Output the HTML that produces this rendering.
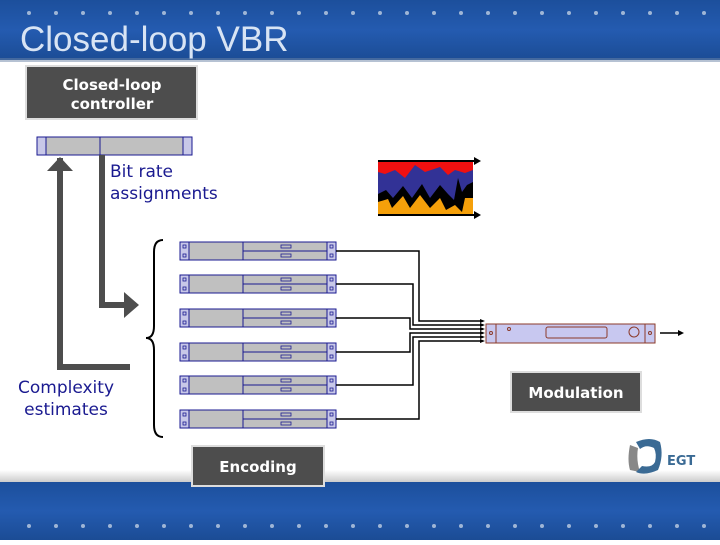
<!DOCTYPE html>
<html><head><style>
body{margin:0;width:720px;height:540px;overflow:hidden;background:#fff;font-family:"Liberation Sans","DejaVu Sans",sans-serif}
</style></head><body>
<svg width="720" height="540" xmlns="http://www.w3.org/2000/svg">
<defs>
<linearGradient id="bl" x1="0" y1="0" x2="0" y2="1"><stop offset="0" stop-color="#1c4f9c"/><stop offset="0.5" stop-color="#245bb0"/><stop offset="1" stop-color="#1b4c95"/></linearGradient>
<linearGradient id="sh" x1="0" y1="0" x2="0" y2="1"><stop offset="0" stop-color="#fff"/><stop offset="1" stop-color="#ccc"/></linearGradient>
<g id="enc">
<rect x="0" y="0" width="156" height="18" fill="#c0c0c0" stroke="#1a1a90" stroke-width="1"/>
<rect x="0" y="0" width="9" height="18" fill="#c8c8e8" stroke="#1a1a90"/>
<rect x="147" y="0" width="9" height="18" fill="#c8c8e8" stroke="#1a1a90"/>
<line x1="63" y1="0" x2="63" y2="18" stroke="#1a1a90"/>
<line x1="63" y1="9" x2="147" y2="9" stroke="#1a1a90"/>
<rect x="101" y="3" width="10" height="3" fill="none" stroke="#1a1a90" stroke-width="0.8"/>
<rect x="101" y="12" width="10" height="3" fill="none" stroke="#1a1a90" stroke-width="0.8"/>
<rect x="3" y="3" width="3" height="3" fill="none" stroke="#1a1a90" stroke-width="0.8"/>
<rect x="3" y="12" width="3" height="3" fill="none" stroke="#1a1a90" stroke-width="0.8"/>
<rect x="150" y="3" width="3" height="3" fill="none" stroke="#1a1a90" stroke-width="0.8"/>
<rect x="150" y="12" width="3" height="3" fill="none" stroke="#1a1a90" stroke-width="0.8"/>
</g>
</defs>
<rect x="0" y="0" width="720" height="60" fill="url(#bl)"/>
<rect x="0" y="58" width="720" height="4" fill="#6d86a8" opacity="0.5"/>
<g fill="#9fb6d6">
<circle cx="29" cy="13" r="2"/><circle cx="56" cy="13" r="2"/><circle cx="83" cy="13" r="2"/><circle cx="110" cy="13" r="2"/><circle cx="137" cy="13" r="2"/><circle cx="164" cy="13" r="2"/><circle cx="191" cy="13" r="2"/><circle cx="218" cy="13" r="2"/><circle cx="245" cy="13" r="2"/><circle cx="272" cy="13" r="2"/><circle cx="299" cy="13" r="2"/><circle cx="326" cy="13" r="2"/><circle cx="353" cy="13" r="2"/><circle cx="380" cy="13" r="2"/><circle cx="407" cy="13" r="2"/><circle cx="434" cy="13" r="2"/><circle cx="461" cy="13" r="2"/><circle cx="488" cy="13" r="2"/><circle cx="515" cy="13" r="2"/><circle cx="542" cy="13" r="2"/><circle cx="569" cy="13" r="2"/><circle cx="596" cy="13" r="2"/><circle cx="623" cy="13" r="2"/><circle cx="650" cy="13" r="2"/><circle cx="677" cy="13" r="2"/><circle cx="704" cy="13" r="2"/>
</g>
<text x="20" y="51" font-size="35" fill="#d8e4f4">Closed-loop VBR</text>
<rect x="0" y="470" width="720" height="12" fill="url(#sh)"/>
<rect x="0" y="482" width="720" height="58" fill="url(#bl)"/>
<g fill="#9fb6d6">
<circle cx="29" cy="526" r="2"/><circle cx="56" cy="526" r="2"/><circle cx="83" cy="526" r="2"/><circle cx="110" cy="526" r="2"/><circle cx="137" cy="526" r="2"/><circle cx="164" cy="526" r="2"/><circle cx="191" cy="526" r="2"/><circle cx="218" cy="526" r="2"/><circle cx="245" cy="526" r="2"/><circle cx="272" cy="526" r="2"/><circle cx="299" cy="526" r="2"/><circle cx="326" cy="526" r="2"/><circle cx="353" cy="526" r="2"/><circle cx="380" cy="526" r="2"/><circle cx="407" cy="526" r="2"/><circle cx="434" cy="526" r="2"/><circle cx="461" cy="526" r="2"/><circle cx="488" cy="526" r="2"/><circle cx="515" cy="526" r="2"/><circle cx="542" cy="526" r="2"/><circle cx="569" cy="526" r="2"/><circle cx="596" cy="526" r="2"/><circle cx="623" cy="526" r="2"/><circle cx="650" cy="526" r="2"/><circle cx="677" cy="526" r="2"/><circle cx="704" cy="526" r="2"/>
</g>
<!-- controller -->
<rect x="26" y="66" width="171" height="53" fill="#4d4d4d" stroke="#ddd" stroke-width="2"/>
<text x="112" y="90" font-size="15" font-weight="bold" fill="#fff" text-anchor="middle" font-family="DejaVu Sans">Closed-loop</text>
<text x="112" y="109" font-size="15" font-weight="bold" fill="#fff" text-anchor="middle" font-family="DejaVu Sans">controller</text>
<rect x="37" y="137" width="155" height="18" fill="#c0c0c0" stroke="#1a1a90"/>
<rect x="37" y="137" width="9" height="18" fill="#c8c8e8" stroke="#1a1a90"/>
<rect x="183" y="137" width="9" height="18" fill="#c8c8e8" stroke="#1a1a90"/>
<line x1="100" y1="137" x2="100" y2="155" stroke="#1a1a90"/>
<!-- arrows -->
<path d="M60,158 V367 H130" fill="none" stroke="#4d4d4d" stroke-width="6"/>
<polygon points="60,157 47,171 73,171" fill="#4d4d4d"/>
<path d="M102,155 V305 H126" fill="none" stroke="#4d4d4d" stroke-width="6"/>
<polygon points="139,305 124,292 124,318" fill="#4d4d4d"/>
<text x="110" y="177" font-size="17" fill="#1a1a90" font-family="DejaVu Sans">Bit rate</text>
<text x="110" y="199" font-size="17" fill="#1a1a90" font-family="DejaVu Sans">assignments</text>
<text x="66" y="393" font-size="17" fill="#1a1a90" text-anchor="middle" font-family="DejaVu Sans">Complexity</text>
<text x="66" y="415" font-size="17" fill="#1a1a90" text-anchor="middle" font-family="DejaVu Sans">estimates</text>
<path d="M163,240 Q154,240 154,252 V326 Q154,338 146,338 Q154,338 154,350 V425 Q154,437 163,437" fill="none" stroke="#000" stroke-width="2"/>
<!-- chart -->
<rect x="378" y="160" width="95" height="55" fill="#f5a00a"/>
<path d="M378,160 H473 V198 L465,198 L462,212 L455,205 L446,210 L440,198 L430,208 L420,195 L410,208 L403,196 L392,208 L388,199 L378,202 Z" fill="#000"/>
<path d="M378,160 H473 V182 L467,185 L462,192 L458,178 L454,200 L448,194 L440,185 L430,198 L422,184 L412,198 L403,186 L393,198 L386,190 L378,194 Z" fill="#323296"/>
<path d="M378,160 H473 V170 L465,173 L455,170 L448,175 L440,167 L425,172 L415,165 L405,178 L395,170 L385,174 L378,172 Z" fill="#f01010"/>
<line x1="378" y1="161" x2="476" y2="161" stroke="#000" stroke-width="2"/>
<polygon points="481,161 474,157 474,165" fill="#000"/>
<line x1="378" y1="215" x2="476" y2="215" stroke="#000" stroke-width="2"/>
<polygon points="481,215 474,211 474,219" fill="#000"/>
<!-- encoders -->
<use href="#enc" x="180" y="242"/>
<use href="#enc" x="180" y="275"/>
<use href="#enc" x="180" y="309"/>
<use href="#enc" x="180" y="343"/>
<use href="#enc" x="180" y="376"/>
<use href="#enc" x="180" y="410"/>
<g fill="none" stroke="#000" stroke-width="1.5">
<path d="M336,251 H419 V321 H481"/>
<path d="M336,284 H413 V325 H481"/>
<path d="M336,318 H410 V329 H481"/>
<path d="M336,352 H410 V333 H481"/>
<path d="M336,385 H413 V337 H481"/>
<path d="M336,419 H419 V341 H481"/>
</g>
<g fill="#000">
<polygon points="485,321 480,319 480,323"/><polygon points="485,325 480,323 480,327"/><polygon points="485,329 480,327 480,331"/><polygon points="485,333 480,331 480,335"/><polygon points="485,337 480,335 480,339"/><polygon points="485,341 480,339 480,343"/>
</g>
<rect x="486" y="324" width="169" height="19" fill="#c8c8f0" stroke="#8b3a2a"/>
<line x1="496" y1="324" x2="496" y2="343" stroke="#8b3a2a"/>
<line x1="645" y1="324" x2="645" y2="343" stroke="#8b3a2a"/>
<rect x="546" y="327" width="61" height="11" rx="2" fill="none" stroke="#8b3a2a"/>
<circle cx="634" cy="332" r="5" fill="none" stroke="#8b3a2a"/>
<circle cx="491" cy="333" r="1.5" fill="none" stroke="#8b3a2a"/>
<circle cx="509" cy="329" r="1.5" fill="none" stroke="#8b3a2a"/>
<circle cx="650" cy="333" r="1.5" fill="none" stroke="#8b3a2a"/>
<line x1="660" y1="333" x2="679" y2="333" stroke="#000" stroke-width="1.5"/>
<polygon points="684,333 678,330 678,336" fill="#000"/>
<rect x="511" y="372" width="130" height="40" fill="#4d4d4d" stroke="#ddd" stroke-width="2"/>
<text x="576" y="398" font-size="15" font-weight="bold" fill="#fff" text-anchor="middle" font-family="DejaVu Sans">Modulation</text>
<rect x="192" y="446" width="132" height="40" fill="#4d4d4d" stroke="#ddd" stroke-width="2"/>
<text x="258" y="472" font-size="15" font-weight="bold" fill="#fff" text-anchor="middle" font-family="DejaVu Sans">Encoding</text>
<!-- logo -->
<path d="M630,445 Q627,460 630,470 L640,472 Q636,460 638,448 Z" fill="#888"/>
<path d="M636,442 Q650,436 660,442 Q664,456 658,470 Q645,476 636,472 L642,466 Q652,468 655,462 Q657,454 654,448 Q646,444 640,449 Z" fill="#3a6a94"/>
<text x="667" y="465" font-size="13" font-weight="bold" fill="#3a6a94" font-family="DejaVu Sans">EGT</text>
</svg>
</body></html>
